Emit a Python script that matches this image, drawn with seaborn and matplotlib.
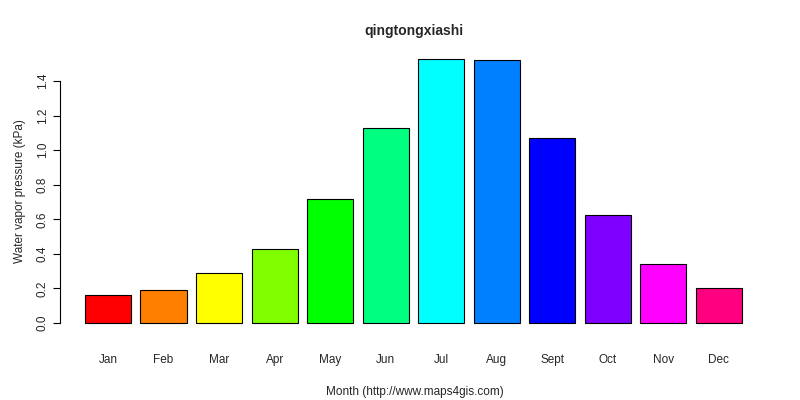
import matplotlib
matplotlib.use("Agg")
import matplotlib.pyplot as plt
import seaborn as sns
import pandas as pd

months = ["Jan","Feb","Mar","Apr","May","Jun","Jul","Aug","Sept","Oct","Nov","Dec"]
values = [0.162, 0.19, 0.29, 0.43, 0.72, 1.13, 1.527, 1.52, 1.07, 0.625, 0.34, 0.20]
colors = ["#FF0000","#FF8000","#FFFF00","#80FF00","#00FF00","#00FF80",
          "#00FFFF","#0080FF","#0000FF","#8000FF","#FF00FF","#FF0080"]
yticks = [0.0, 0.2, 0.4, 0.6, 0.8, 1.0, 1.2, 1.4]

sns.set_style("white")
plt.rcParams['font.family'] = ['Liberation Sans', 'DejaVu Sans']
df = pd.DataFrame({"month": months, "v": values})

fig = plt.figure(figsize=(8, 4), dpi=100)
ax = fig.add_axes([60/800, 1-323/400, 710/800, (323-59)/400])
sns.barplot(data=df, x="month", y="v", hue="month", palette=colors, legend=False,
            width=0.83, edgecolor="black", linewidth=0.8, saturation=1, ax=ax)
ax.set_xlim(-0.864, 11.92)
ax.set_ylim(0, 1.527)
for p in ax.patches:
    p.set_clip_on(False)
for s in ["top", "right", "bottom"]:
    ax.spines[s].set_visible(False)
ax.spines["left"].set_bounds(0, 1.4)
ax.spines["left"].set_color("black")
ax.spines["left"].set_linewidth(0.8)
ax.spines["left"].set_position(("outward", 0))
ax.set_yticks(yticks)
ax.set_yticklabels([f"{t:.1f}" for t in yticks], rotation=90, va="center", fontsize=8.5)
ax.tick_params(axis="y", left=True, length=5, width=0.8, color="black", pad=3)
ax.tick_params(axis="x", bottom=False, labelsize=8.5, pad=19)
ax.set_xlabel("Month (http://www.maps4gis.com)", fontsize=8.5, labelpad=14)
ax.set_ylabel("Water vapor pressure (kPa)", fontsize=8.5, labelpad=8)
fig.text(414/800, 1-31/400, "qingtongxiashi", ha="center", va="center",
         fontsize=10, fontweight="bold")
fig.savefig("out.png", dpi=100)
